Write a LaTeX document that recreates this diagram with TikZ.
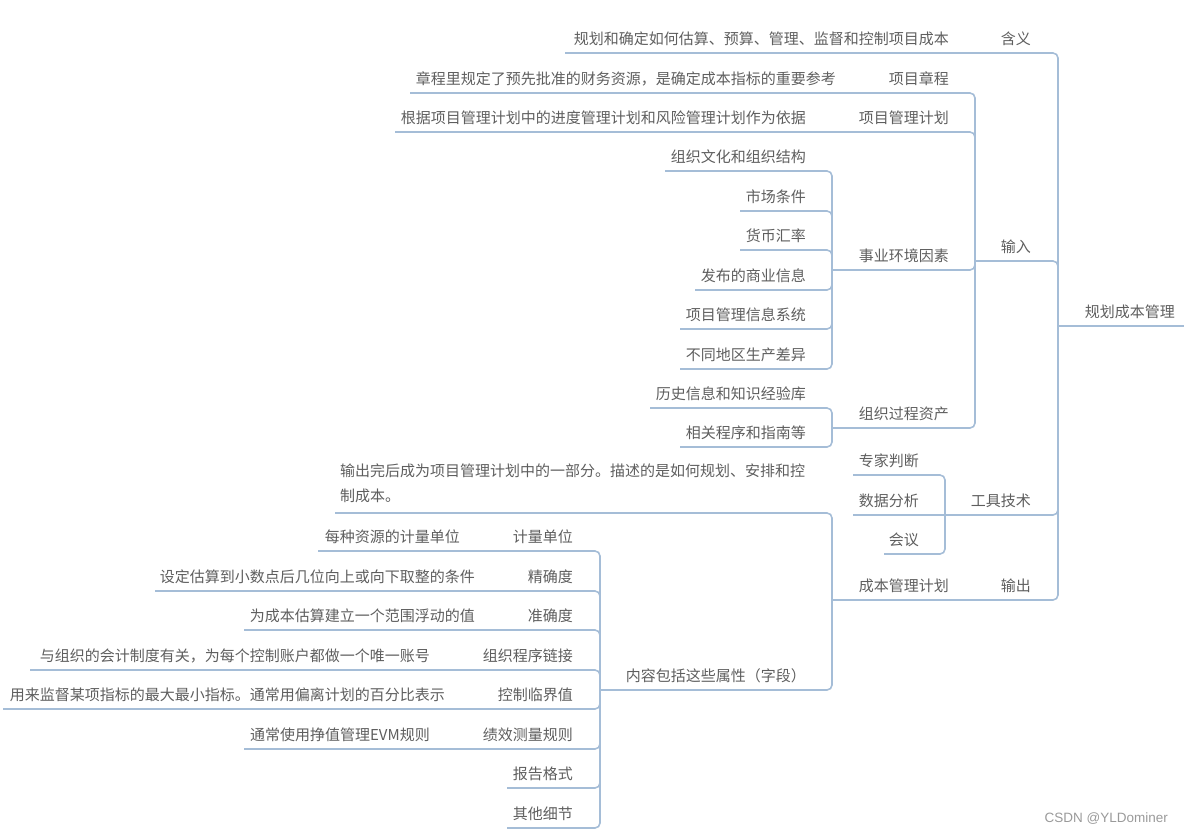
\documentclass[tikz,border=0pt]{standalone}
\usepackage{fontspec}
\newfontfamily\cjk{Noto Sans CJK SC}
\newfontfamily\wmfont{Liberation Sans}
\definecolor{txt}{HTML}{5E5E5E}
\definecolor{ln}{HTML}{A5BDD7}
\definecolor{wmc}{HTML}{9A9A9A}
\tikzset{
  lbl/.style={font=\cjk\fontsize{15pt}{25pt}\selectfont, text=txt, inner sep=0pt, anchor=base east},
  conn/.style={draw=ln, line width=1.6pt, rounded corners=5pt},
  wm/.style={font=\wmfont\fontsize{13.5pt}{16pt}\selectfont, text=wmc, inner sep=0pt, anchor=base east}
}
\newcommand\mmn[5]{\node[lbl] (#1) at (#2,#3-8.5) {#5}; \coordinate (#1-l) at (#4,#3);}
\newcommand\mmbend[2]{\draw[conn] (#1-l) -- (#1-l -| #2-l) -- (#2-l);}
\newcommand\mmstr[2]{\draw[conn] (#1-l) -- (#2-l);}
\begin{document}
\begin{tikzpicture}[x=1pt,y=-1pt]
\useasboundingbox (0,0) rectangle (1184,833);
% nodes
\mmn{root}{1175}{326}{1058}{规划成本管理}
\coordinate (root-r) at (1184,326);
\mmn{hanyi}{1031}{53}{990}{含义}
\mmn{hanyiC}{949}{53}{565}{规划和确定如何估算、预算、管理、监督和控制项目成本}
\mmn{shuru}{1031}{261}{975}{输入}
\mmn{xmzc}{949}{93}{860}{项目章程}
\mmn{xmzcC}{836}{93}{410}{章程里规定了预先批准的财务资源，是确定成本指标的重要参考}
\mmn{xmgljh}{949}{132}{840}{项目管理计划}
\mmn{xmgljhC}{806}{132}{395}{根据项目管理计划中的进度管理计划和风险管理计划作为依据}
\mmn{syhj}{949}{270}{832}{事业环境因素}
\mmn{e1}{806}{171}{665}{组织文化和组织结构}
\mmn{e2}{806}{211}{740}{市场条件}
\mmn{e3}{806}{250}{740}{货币汇率}
\mmn{e4}{806}{290}{695}{发布的商业信息}
\mmn{e5}{806}{329}{680}{项目管理信息系统}
\mmn{e6}{806}{369}{680}{不同地区生产差异}
\mmn{zzgc}{949}{428}{832}{组织过程资产}
\mmn{a1}{806}{408}{650}{历史信息和知识经验库}
\mmn{a2}{806}{447}{680}{相关程序和指南等}
\mmn{gjjs}{1031}{515}{945}{工具技术}
\mmn{t1}{919}{475}{853}{专家判断}
\mmn{t2}{919}{515}{853}{数据分析}
\mmn{t3}{919}{554}{884}{会议}
\mmn{shuchu}{1031}{600}{990}{输出}
\mmn{cbgl}{949}{600}{832}{成本管理计划}
\node[lbl, anchor=base west, align=left] (o1) at (340,501.5) {输出完后成为项目管理计划中的一部分。描述的是如何规划、安排和控\\制成本。};
\coordinate (o1-l) at (335,513);
\mmn{o2}{806}{690}{600}{内容包括这些属性（字段）}
\mmn{p1}{573}{551}{490}{计量单位}
\mmn{p1C}{460}{551}{318}{每种资源的计量单位}
\mmn{p2}{573}{591}{500}{精确度}
\mmn{p2C}{475}{591}{155}{设定估算到小数点后几位向上或向下取整的条件}
\mmn{p3}{573}{630}{500}{准确度}
\mmn{p3C}{475}{630}{244}{为成本估算建立一个范围浮动的值}
\mmn{p4}{573}{670}{460}{组织程序链接}
\mmn{p4C}{430}{670}{30}{与组织的会计制度有关，为每个控制账户都做一个唯一账号}
\mmn{p5}{573}{709}{470}{控制临界值}
\mmn{p5C}{445}{709}{3}{用来监督某项指标的最大最小指标。通常用偏离计划的百分比表示}
\mmn{p6}{573}{749}{460}{绩效测量规则}
\mmn{p6C}{430}{749}{244}{通常使用挣值管理EVM规则}
\mmn{p7}{573}{788}{507}{报告格式}
\mmn{p8}{573}{828}{507}{其他细节}
\node[wm] (wm) at (1168,822.5) {CSDN @YLDominer};
% connectors
\draw[conn] (root-l) -- (root-r);
\mmstr{hanyiC}{hanyi}
\mmbend{hanyi}{root}
\mmbend{shuru}{root}
\mmbend{gjjs}{root}
\mmbend{shuchu}{root}
\mmstr{xmzcC}{xmzc}
\mmbend{xmzc}{shuru}
\mmstr{xmgljhC}{xmgljh}
\mmbend{xmgljh}{shuru}
\mmbend{syhj}{shuru}
\mmbend{zzgc}{shuru}
\mmbend{e1}{syhj}
\mmbend{e2}{syhj}
\mmbend{e3}{syhj}
\mmbend{e4}{syhj}
\mmbend{e5}{syhj}
\mmbend{e6}{syhj}
\mmbend{a1}{zzgc}
\mmbend{a2}{zzgc}
\mmbend{t1}{gjjs}
\mmstr{t2}{gjjs}
\mmbend{t3}{gjjs}
\mmstr{cbgl}{shuchu}
\mmbend{o1}{cbgl}
\mmbend{o2}{cbgl}
\mmbend{p1}{o2}
\mmbend{p2}{o2}
\mmbend{p3}{o2}
\mmbend{p4}{o2}
\mmbend{p5}{o2}
\mmbend{p6}{o2}
\mmbend{p7}{o2}
\mmbend{p8}{o2}
\mmstr{p1C}{p1}
\mmstr{p2C}{p2}
\mmstr{p3C}{p3}
\mmstr{p4C}{p4}
\mmstr{p5C}{p5}
\mmstr{p6C}{p6}
\end{tikzpicture}
\end{document}
